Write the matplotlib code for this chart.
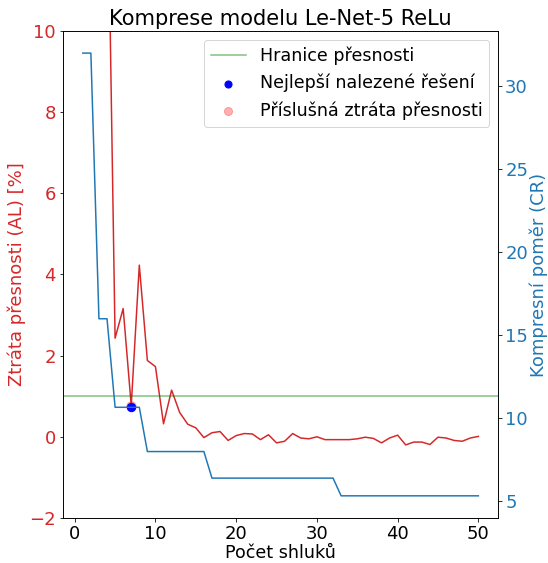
"""
Komprese modelu Le-Net-5 ReLu: ztráta přesnosti a kompresní poměr podle počtu shluků
"""
import matplotlib
matplotlib.use("Agg")
import matplotlib.pyplot as plt

# počet shluků
clusters = list(range(1, 51))

# ztráta přesnosti [%] (prvních pár hodnot je mimo zobrazený rozsah)
accuracy_loss = [
    88.0, 72.0, 45.0, 15.0, 2.43, 3.16, 0.77, 4.23, 1.88, 1.73,
    0.32, 1.15, 0.60, 0.31, 0.22, -0.02, 0.10, 0.13, -0.09, 0.03,
    0.08, 0.07, -0.07, 0.05, -0.15, -0.11, 0.08, -0.03, -0.05, 0.00,
    -0.07, -0.07, -0.07, -0.07, -0.05, -0.01, -0.04, -0.15, -0.03, 0.04,
    -0.20, -0.13, -0.13, -0.19, -0.01, -0.03, -0.09, -0.11, -0.03, 0.01,
]

# kompresní poměr 32 / bitů na index shluku
bits = [1, 1, 2, 2, 3, 3, 3, 3] + [4] * 8 + [5] * 16 + [6] * 18
compression_ratio = [32 / b for b in bits]

accuracy_limit = 1.0
best_idx = 6  # 7 shluků

fig, ax1 = plt.subplots(figsize=(548 / 72, 563 / 72), dpi=72)
fig.subplots_adjust(left=0.115, right=0.909, top=0.945, bottom=0.08)

ax1.plot(clusters, accuracy_loss, color="tab:red")
line_limit = ax1.axhline(accuracy_limit, color="green", alpha=0.5,
                         label="Hranice přesnosti")
pt_loss = ax1.scatter(clusters[best_idx], accuracy_loss[best_idx], color="red",
                      alpha=0.3, s=90, label="Příslušná ztráta přesnosti")
ax1.set_ylim(-2, 10)
ax1.set_xlabel("Počet shluků", fontsize=17.5, labelpad=1)
ax1.set_ylabel("Ztráta přesnosti (AL) [%]", color="tab:red", fontsize=18, labelpad=3)
ax1.tick_params(axis="y", labelcolor="tab:red", labelsize=18)
ax1.tick_params(axis="x", labelsize=18)

ax2 = ax1.twinx()
ax2.plot(clusters, compression_ratio, color="tab:blue")
pt_best = ax2.scatter(clusters[best_idx], compression_ratio[best_idx], color="blue",
                      s=70, label="Nejlepší nalezené řešení")
ax2.set_ylabel("Kompresní poměr (CR)", color="tab:blue", fontsize=18, labelpad=1)
ax2.tick_params(axis="y", labelcolor="tab:blue", labelsize=18)

ax2.legend(handles=[line_limit, pt_best, pt_loss], loc="upper right",
           fontsize=17.5, markerscale=0.85)
ax1.set_title("Komprese modelu Le-Net-5 ReLu", fontsize=21)

plt.savefig("out.png", dpi=72)
